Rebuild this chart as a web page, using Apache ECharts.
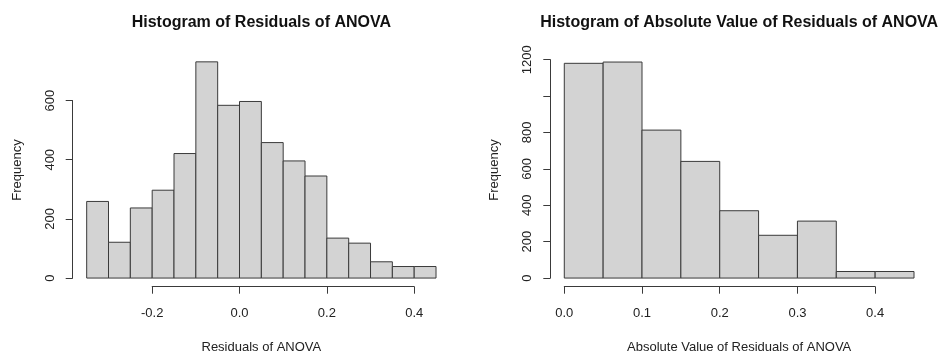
<!DOCTYPE html>
<html><head><meta charset="utf-8">
<script src="https://cdn.jsdelivr.net/npm/echarts@6/dist/echarts.min.js"></script>
<style>html,body{margin:0;padding:0;background:#fff}#c{width:944px;height:356px}</style>
</head><body><div id="c"></div>
<script>
// ---- data ----
const residBreaks = [-0.35,-0.30,-0.25,-0.20,-0.15,-0.10,-0.05,0.00,0.05,0.10,0.15,0.20,0.25,0.30,0.35,0.40,0.45];
const residCounts = [259,121,237,297,421,731,584,597,458,396,345,135,118,55,39,39];
const residXTicks = [-0.2,0.0,0.2,0.4];
const residXTickLabels = ['-0.2','0.0','0.2','0.4'];
const residYTicks = [0,200,400,600];
const residYTickLabels = ['0','200','400','600'];

const absBreaks = [0.00,0.05,0.10,0.15,0.20,0.25,0.30,0.35,0.40,0.45];
const absCounts = [1180,1187,813,641,370,235,313,36,36];
const absXTicks = [0.0,0.1,0.2,0.3,0.4];
const absXTickLabels = ['0.0','0.1','0.2','0.3','0.4'];
const absYTicks = [0,200,400,600,800,1000,1200];
const absYTickLabels = ['0','200','400','600','800','','1200'];

const titles = ['Histogram of Residuals of ANOVA','Histogram of Absolute Value of Residuals of ANOVA'];
const xNames = ['Residuals of ANOVA','Absolute Value of Residuals of ANOVA'];
const yName = 'Frequency';

// ---- layout ----
const FONT = '"Liberation Sans", Arial, Helvetica, sans-serif';
const LINE = '#3a3a3a';
const TXT = '#222';
const panels = [
  {title:titles[0], xName:xNames[0], breaks:residBreaks, counts:residCounts, xTicks:residXTicks, xLabels:residXTickLabels, yTicks:residYTicks, yLabels:residYTickLabels,
   plot:{left:72.7, right:450, top:53.2, bottom:286.7}},
  {title:titles[1], xName:xNames[1], breaks:absBreaks, counts:absCounts, xTicks:absXTicks, xLabels:absXTickLabels, yTicks:absYTicks, yLabels:absYTickLabels,
   plot:{left:550.3, right:928, top:53.4, bottom:286.7}}
];

function labelFor(v, ticks, labels){
  for (let i=0;i<ticks.length;i++) if (Math.abs(ticks[i]-v) < 1e-6) return labels[i];
  return '';
}
function renderBin(params, api){
  const p0 = api.coord([api.value(0), api.value(2)]);
  const p1 = api.coord([api.value(1), 0]);
  return {type:'rect', shape:{x:p0[0], y:p0[1], width:p1[0]-p0[0], height:p1[1]-p0[1]},
    style:{fill:'#d3d3d3', stroke:LINE, lineWidth:1}};
}

const option = {animation:false, backgroundColor:'#fff', title:[], grid:[], xAxis:[], yAxis:[], series:[]};
const hidden = {axisLine:{show:false}, axisTick:{show:false}, axisLabel:{show:false}, splitLine:{show:false}};
const gridBase = {outerBoundsMode:'none', containLabel:false};

panels.forEach(p => {
  const xlo = p.breaks[0], xhi = p.breaks[p.breaks.length-1];
  const xpad = 0.04*(xhi-xlo);
  const ymx = Math.max(...p.counts), ypad = 0.04*ymx;
  const xmin = xlo-xpad, xmax = xhi+xpad, ymin = -ypad, ymax = ymx+ypad;
  const W = p.plot.right-p.plot.left, H = p.plot.bottom-p.plot.top;
  const xPix = v => p.plot.left + (v-xmin)/(xmax-xmin)*W;
  const yPix = v => p.plot.bottom - (v-ymin)/(ymax-ymin)*H;
  const g = option.grid.length;

  option.title.push({text:p.title, left:p.plot.left+W/2, top:15, textAlign:'center', padding:0,
    textStyle:{fontFamily:FONT, fontSize:16, fontWeight:'bold', color:'#111'}});

  // data grid (R-style 4% padding around the data range)
  option.grid.push(Object.assign({left:p.plot.left, top:p.plot.top, width:W, height:H}, gridBase));
  option.xAxis.push(Object.assign({gridIndex:g, type:'value', min:xmin, max:xmax,
    name:p.xName, nameLocation:'middle', nameGap:54,
    nameTextStyle:{fontFamily:FONT, fontSize:13, color:TXT}}, hidden));
  option.yAxis.push(Object.assign({gridIndex:g, type:'value', min:ymin, max:ymax, interval:ypad,
    name:yName, nameLocation:'middle', nameGap:49, nameRotate:90,
    nameTextStyle:{fontFamily:FONT, fontSize:13, color:TXT}}, hidden));
  option.series.push({type:'custom', xAxisIndex:g, yAxisIndex:g, renderItem:renderBin,
    encode:{x:[0,1], y:2}, data:p.counts.map((c,k)=>[p.breaks[k], p.breaks[k+1], c])});

  // visible y axis (spans tick range only, as in R)
  const yt0 = p.yTicks[0], yt1 = p.yTicks[p.yTicks.length-1];
  option.grid.push(Object.assign({left:p.plot.left, top:yPix(yt1), width:W, height:yPix(yt0)-yPix(yt1)}, gridBase));
  option.xAxis.push(Object.assign({gridIndex:g+1, type:'value', min:0, max:1}, hidden));
  option.yAxis.push({gridIndex:g+1, type:'value', min:yt0, max:yt1, interval:p.yTicks[1]-p.yTicks[0],
    axisLine:{show:true, lineStyle:{color:LINE, width:1}},
    axisTick:{show:true, length:7, lineStyle:{color:LINE, width:1}},
    axisLabel:{show:true, rotate:90, margin:16, fontFamily:FONT, fontSize:13, color:TXT,
      showMinLabel:true, showMaxLabel:true,
      formatter:(v => labelFor(v, p.yTicks, p.yLabels))},
    splitLine:{show:false}});

  // visible x axis (spans tick range only, as in R)
  const xt0 = p.xTicks[0], xt1 = p.xTicks[p.xTicks.length-1];
  option.grid.push(Object.assign({left:xPix(xt0), top:p.plot.top, width:xPix(xt1)-xPix(xt0), height:H}, gridBase));
  option.xAxis.push({gridIndex:g+2, type:'value', min:xt0, max:xt1, interval:p.xTicks[1]-p.xTicks[0],
    axisLine:{show:true, onZero:false, lineStyle:{color:LINE, width:1}},
    axisTick:{show:true, length:7, lineStyle:{color:LINE, width:1}},
    axisLabel:{show:true, margin:20, fontFamily:FONT, fontSize:13, color:TXT,
      showMinLabel:true, showMaxLabel:true,
      formatter:(v => labelFor(v, p.xTicks, p.xLabels))},
    splitLine:{show:false}});
  option.yAxis.push(Object.assign({gridIndex:g+2, type:'value', min:0, max:1}, hidden));
});

const chart = echarts.init(document.getElementById('c'), null, {renderer:'canvas'});
chart.setOption(option);
</script>
</body></html>
